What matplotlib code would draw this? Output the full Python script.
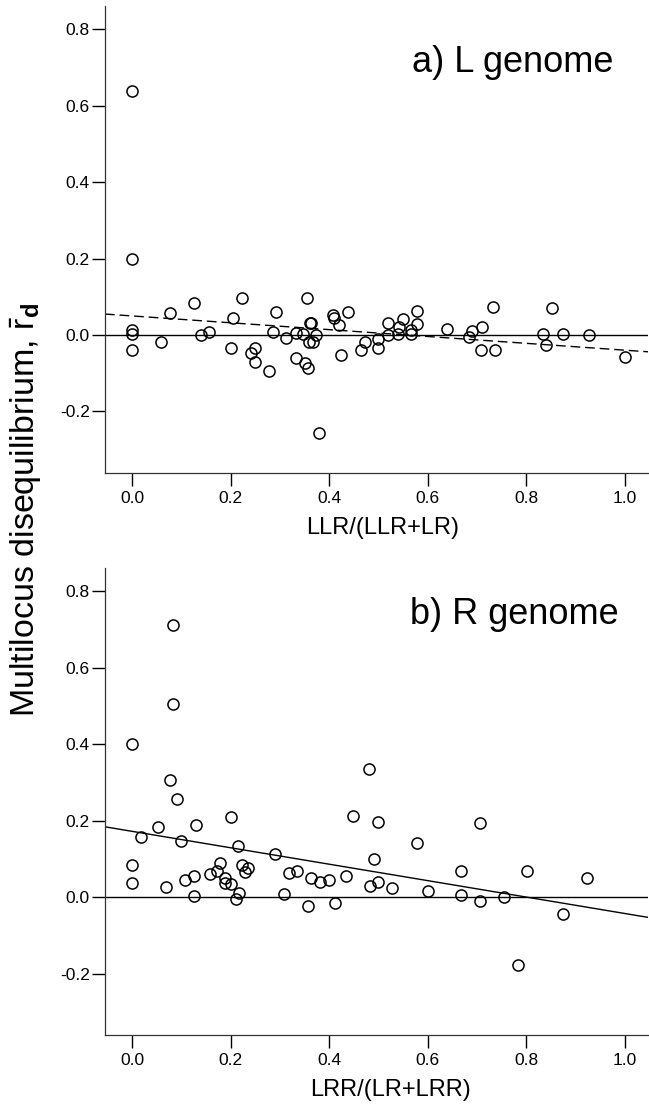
import numpy as np
import matplotlib
matplotlib.use("Agg")
import matplotlib.pyplot as plt

plt.rcParams['font.family'] = ['Liberation Sans', 'DejaVu Sans']
plt.rcParams['mathtext.fontset'] = 'custom'
plt.rcParams['mathtext.rm'] = 'Liberation Sans'
plt.rcParams['mathtext.it'] = 'Liberation Sans:italic'
plt.rcParams['mathtext.bf'] = 'Liberation Sans:bold'
plt.rcParams['axes.unicode_minus'] = False

# a) L genome
l_x = [0, 0, 0, 0, 0, 0.058, 0.077, 0.125, 0.14, 0.156,
       0.2, 0.205, 0.222, 0.242, 0.25, 0.25, 0.278, 0.293, 0.286, 0.313,
       0.333, 0.333, 0.347, 0.35, 0.357, 0.355, 0.361, 0.364, 0.358, 0.368, 0.373, 0.379,
       0.408, 0.41, 0.42, 0.423, 0.439, 0.464, 0.473,
       0.5, 0.5, 0.519, 0.519, 0.539, 0.541, 0.55, 0.566, 0.566, 0.579, 0.579,
       0.639, 0.684, 0.69, 0.711, 0.709, 0.736, 0.733,
       0.833, 0.84, 0.852, 0.875, 0.928, 1.0]
l_y = [0.638, 0.198, 0.013, 0.003, -0.039, -0.017, 0.057, 0.083, 0.0, 0.009,
       -0.033, 0.044, 0.098, -0.046, -0.035, -0.071, -0.093, 0.061, 0.007, -0.009,
       0.006, -0.061, 0.002, -0.074, -0.085, 0.098, 0.031, 0.031, -0.018, -0.018, 0.0, -0.257,
       0.052, 0.045, 0.026, -0.051, 0.059, -0.039, -0.018,
       -0.011, -0.033, 0.031, -0.001, 0.002, 0.02, 0.042, 0.013, 0.003, 0.063, 0.029,
       0.015, -0.004, 0.01, 0.022, -0.039, -0.038, 0.074,
       0.003, -0.027, 0.071, 0.004, 0.001, -0.058]
l_fit = [0.050, -0.0896]   # intercept, slope (dashed)

# b) R genome
r_x = [0, 0, 0, 0.019, 0.053, 0.068, 0.077, 0.083, 0.083, 0.091,
       0.1, 0.108, 0.126, 0.126, 0.13, 0.158, 0.172, 0.179, 0.188, 0.188,
       0.2, 0.2, 0.214, 0.222, 0.21, 0.217, 0.23, 0.236, 0.29, 0.308,
       0.318, 0.334, 0.357, 0.364, 0.381, 0.4, 0.412, 0.435, 0.449, 0.481,
       0.49, 0.483, 0.5, 0.5, 0.527, 0.579, 0.6, 0.667, 0.667, 0.706,
       0.706, 0.755, 0.783, 0.801, 0.875, 0.924]
r_y = [0.4, 0.084, 0.038, 0.158, 0.183, 0.027, 0.307, 0.711, 0.504, 0.257,
       0.148, 0.045, 0.056, 0.003, 0.188, 0.061, 0.069, 0.09, 0.051, 0.038,
       0.209, 0.034, 0.134, 0.085, -0.005, 0.011, 0.066, 0.076, 0.112, 0.008,
       0.063, 0.068, -0.023, 0.051, 0.039, 0.044, -0.016, 0.056, 0.212, 0.335,
       0.1, 0.03, 0.197, 0.039, 0.024, 0.141, 0.017, 0.067, 0.005, 0.194,
       -0.009, 0.0, -0.177, 0.067, -0.045, 0.049]
r_fit = [0.172, -0.215]    # intercept, slope (solid)

x_ticks = [0.0, 0.2, 0.4, 0.6, 0.8, 1.0]
y_ticks = [-0.2, 0.0, 0.2, 0.4, 0.6, 0.8]
xlim = (-0.055, 1.047)
ylim = (-0.361, 0.861)


def draw_panel(ax, xs, ys, fit, fit_style, title, xlabel, title_pos, xlabel_x):
    ax.set_xlim(*xlim)
    ax.set_ylim(*ylim)
    ax.axhline(0, color="black", linewidth=1.0, zorder=1)
    xx = np.array(xlim)
    ax.plot(xx, fit[0] + fit[1] * xx, color="black", linewidth=1.0,
            linestyle=fit_style, zorder=1)
    ax.plot(xs, ys, linestyle="none", marker="o", markersize=8,
            markerfacecolor="none", markeredgecolor="black",
            markeredgewidth=1.1, zorder=3)

    for side in ["top", "right"]:
        ax.spines[side].set_visible(False)
    for side in ["left", "bottom"]:
        ax.spines[side].set_color("#333333")
        ax.spines[side].set_linewidth(0.9)

    ax.set_xticks(x_ticks)
    ax.set_xticklabels([f"{v:.1f}" for v in x_ticks])
    ax.set_yticks(y_ticks)
    ax.set_yticklabels([f"{v:.1f}" for v in y_ticks])
    ax.tick_params(axis="x", length=9.5, width=1.0, pad=3.5, labelsize=12.5)
    ax.tick_params(axis="y", length=9.5, width=1.0, pad=1.5, labelsize=12.5)

    ax.set_xlabel(xlabel, fontsize=17)
    ax.xaxis.set_label_coords(xlabel_x, -0.094)
    ax.text(title_pos[0], title_pos[1], title, transform=ax.transAxes,
            ha="right", va="baseline", fontsize=26)


fig = plt.figure(figsize=(6.49, 11.07), dpi=100)
ax_top = fig.add_axes([0.1618, 0.5727, 0.8367, 0.4219])
ax_bot = fig.add_axes([0.1618, 0.0650, 0.8367, 0.4219])

draw_panel(ax_top, l_x, l_y, l_fit, (0, (7, 3.5)), "a) L genome",
           "LLR/(LLR+LR)", (0.936, 0.859), 0.512)
draw_panel(ax_bot, r_x, r_y, r_fit, "-", "b) R genome",
           "LRR/(LR+LRR)", (0.945, 0.880), 0.526)

fig.text(0.04, 0.539, r"Multilocus disequilibrium, $\bar{\mathrm{r}}_{\mathbf{d}}$",
         rotation=90, ha="center", va="center", fontsize=24.5)

fig.savefig("out.png", dpi=100)
